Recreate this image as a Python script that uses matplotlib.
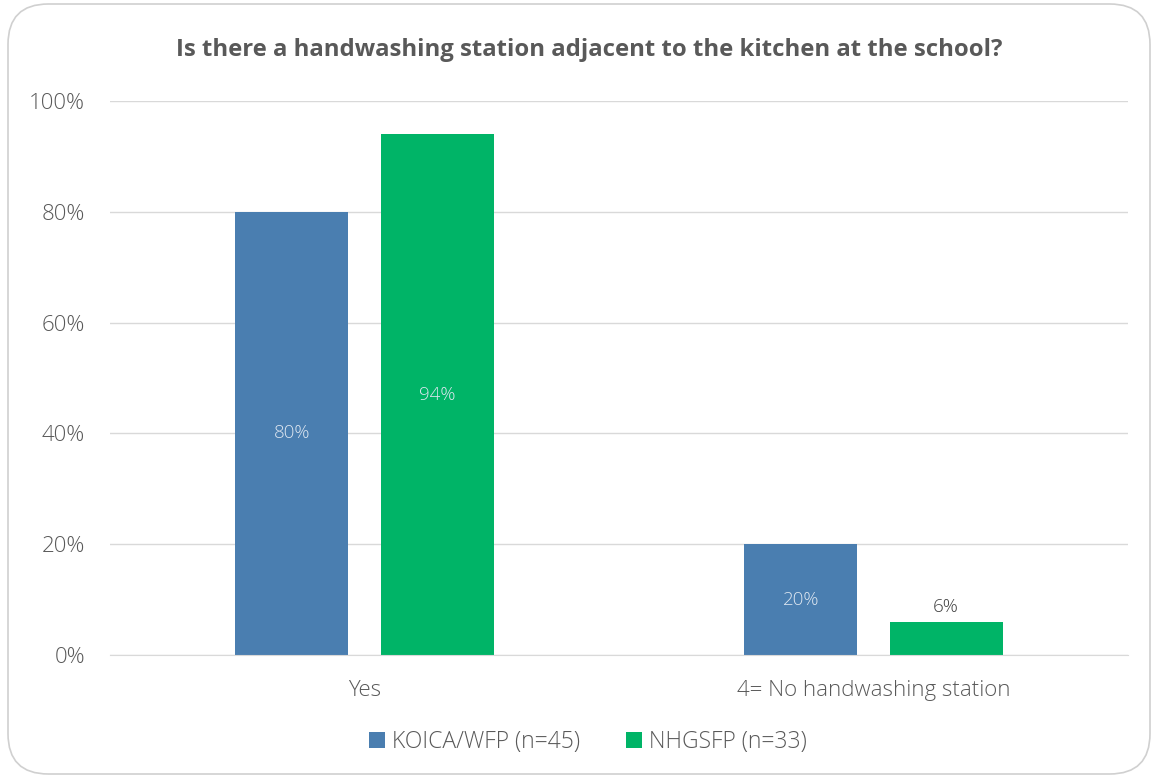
import matplotlib
matplotlib.use("Agg")
import matplotlib.pyplot as plt
from matplotlib.patches import FancyBboxPatch
import numpy as np

categories = ["Yes", "4= No handwashing station"]
series_names = ["KOICA/WFP (n=45)", "NHGSFP (n=33)"]
koica = [80, 20]
nhgsfp = [94, 6]
yticks = [0, 20, 40, 60, 80, 100]
title = "Is there a handwashing station adjacent to the kitchen at the school?"

blue = "#4a7eb0"
green = "#00b467"
grey = "#595959"

plt.rcParams['font.family'] = ['Open Sans', 'DejaVu Sans']
LW = "light"

fig = plt.figure(figsize=(11.53, 7.78), dpi=100)
border = FancyBboxPatch((8/1153, 4/778), 1142/1153, 770/778,
                        boxstyle="round,pad=0,rounding_size=0.035",
                        transform=fig.transFigure, facecolor="white",
                        edgecolor="#d0d0d0", linewidth=1.2, zorder=-10,
                        mutation_aspect=1153/778)
fig.patches.append(border)

ax = fig.add_axes([110/1153, 1-655/778, (1128-110)/1153, (655-101)/778])
ax.set_facecolor("none")
x = np.arange(len(categories))
w = 0.222
off = 0.1425
b1 = ax.bar(x - off, koica, w, color=blue, label=series_names[0], zorder=3)
b2 = ax.bar(x + off, nhgsfp, w, color=green, label=series_names[1], zorder=3)

ax.set_xlim(-0.5, 1.5)
ax.set_ylim(0, 100)
ax.set_yticks(yticks)
ax.set_yticklabels([f"{v}%" for v in yticks], fontweight=LW)
ax.set_xticks(x)
ax.set_xticklabels(categories, fontweight=LW)
ax.tick_params(axis='y', length=0, labelsize=16, colors=grey, pad=18)
ax.tick_params(axis='x', length=0, labelsize=16, colors=grey, pad=18)
ax.grid(axis='y', color="#d9d9d9", linewidth=1, zorder=0)
for s in ["top", "right", "left"]:
    ax.spines[s].set_visible(False)
ax.spines["bottom"].set_color("#d9d9d9")
ax.spines["bottom"].set_zorder(4)

for bars, vals in [(b1, koica), (b2, nhgsfp)]:
    for bar, v in zip(bars, vals):
        cx = bar.get_x() + bar.get_width()/2
        if v >= 10:
            ax.text(cx, v/2, f"{v}%", ha="center", va="center", fontsize=13.5,
                    color="#dde6f0", zorder=5, fontweight=LW)
        else:
            ax.text(cx, v + 1.0, f"{v}%", ha="center", va="bottom", fontsize=13.5,
                    color="#404040", zorder=5, fontweight=LW)

fig.text(589/1153, 1-50/778, title, ha="center", va="center", fontsize=17.2,
         fontweight="bold", color=grey)

leg = fig.legend(handles=[b1, b2], labels=series_names, loc="center",
                 bbox_to_anchor=(588/1153, 1-742/778), ncol=2, frameon=False,
                 prop={'size': 16.5, 'weight': LW}, handlelength=0.7,
                 handleheight=0.7, handletextpad=0.3, columnspacing=2.0)
for t in leg.get_texts():
    t.set_color(grey)

fig.savefig("out.png", dpi=100)
